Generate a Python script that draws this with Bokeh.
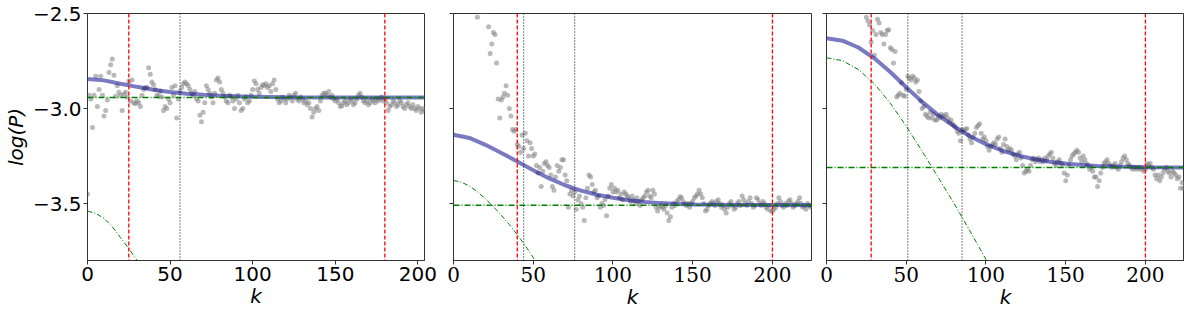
from bokeh.plotting import figure
from bokeh.layouts import row
from bokeh.models import FixedTicker, CustomJSTickFormatter, Span, Range1d
from bokeh.embed import file_html
from bokeh.resources import INLINE

# ---------------- data ----------------
x_ticks = [0, 50, 100, 150, 200]
y_ticks = [-3.5, -3.0, -2.5]
y_lim = [-3.8, -2.5]
x_lims = [[0, 204], [0, 224.5], [0, 224.5]]

# panel 1 observed log(P)
k1 = list(range(0, 205))
logP1 = [
    -3.45, -2.93, -2.95, -3.10, -2.93, -2.83, -2.99, -2.90, -2.83, -2.93,
    -3.04, -3.01, -2.955, -2.81, -2.77, -2.74, -2.825, -2.935, -2.88, -2.915,
    -2.93, -3.01, -2.925, -2.915, -2.94, -2.857, -2.96, -2.85, -2.97, -2.975,
    -2.96, -2.97, -2.99, -2.93, -2.90, -2.89, -2.89, -2.785, -2.82, -2.86,
    -2.875, -2.90, -2.93, -2.935, -2.91, -2.94, -3.01, -2.99, -3.00, -2.95,
    -2.97, -2.89, -2.93, -2.88, -3.05, -2.95, -2.91, -2.89, -2.87, -2.86,
    -2.87, -2.88, -2.90, -2.92, -2.93, -2.91, -2.95, -2.96, -3.035, -3.07,
    -3.02, -2.97, -2.88, -2.90, -2.92, -2.94, -2.97, -2.92, -2.85, -2.84,
    -2.86, -2.90, -2.92, -2.94, -2.96, -2.97, -2.93, -2.94, -2.96, -3.00,
    -2.95, -2.93, -2.97, -3.01, -3.00, -2.95, -2.94, -2.97, -2.96, -2.93,
    -2.90, -2.855, -2.87, -2.90, -2.92, -2.89, -2.875, -2.88, -2.87, -2.89,
    -2.88, -2.91, -2.87, -2.85, -2.90, -2.95, -2.97, -2.96, -2.94, -2.95,
    -2.97, -2.95, -2.93, -2.94, -2.96, -2.93, -2.92, -2.95, -2.96, -2.94,
    -2.95, -2.97, -2.96, -2.98, -2.97, -3.00, -3.045, -3.02, -3.00, -2.99,
    -3.01, -2.96, -2.93, -2.92, -2.92, -2.93, -2.91, -2.94, -2.93, -2.95,
    -2.96, -2.95, -2.97, -2.99, -2.985, -2.97, -2.96, -2.98, -2.97, -2.95,
    -2.96, -2.98, -2.97, -2.95, -2.93, -2.92, -2.94, -2.96, -2.97, -2.96,
    -2.98, -2.97, -2.95, -2.96, -2.97, -2.95, -2.96, -2.95, -2.94, -2.96,
    -2.95, -2.97, -3.01, -2.99, -2.98, -2.96, -2.97, -2.99, -2.98, -2.96,
    -2.97, -2.99, -3.00, -2.98, -2.97, -2.99, -3.00, -2.98, -3.00, -3.01,
    -2.99, -3.00, -3.02, -3.00, -3.01,
]

# panel 2 observed log(P)
k2 = list(range(14, 226))
logP2 = [
    -2.45, -2.52, -2.48, -2.47, -2.49, -2.46, -2.48, -2.49, -2.57, -2.71,
    -2.66, -2.60, -2.61, -2.76, -2.95, -3.05, -2.955, -2.94, -2.92, -2.88,
    -2.93, -3.00, -3.04, -3.11, -3.12, -3.11, -3.19, -3.20, -3.23, -3.14,
    -3.21, -3.13, -3.17, -3.25, -3.18, -3.21, -3.25, -3.24, -3.30, -3.34,
    -3.31, -3.41, -3.33, -3.29, -3.28, -3.30, -3.31, -3.35, -3.41, -3.43,
    -3.36, -3.30, -3.33, -3.31, -3.27, -3.27, -3.35, -3.38, -3.52, -3.45,
    -3.43, -3.46, -3.44, -3.53, -3.48, -3.46, -3.50, -3.52, -3.59, -3.47,
    -3.42, -3.35, -3.36, -3.40, -3.44, -3.43, -3.47, -3.46, -3.52, -3.50,
    -3.51, -3.48, -3.565, -3.46, -3.42, -3.40, -3.44, -3.42, -3.44, -3.43,
    -3.47, -3.45, -3.48, -3.44, -3.45, -3.46, -3.47, -3.49, -3.46, -3.48,
    -3.50, -3.47, -3.49, -3.51, -3.48, -3.47, -3.46, -3.44, -3.43, -3.46,
    -3.47, -3.43, -3.45, -3.52, -3.54, -3.52, -3.51, -3.52, -3.53, -3.51,
    -3.55, -3.59, -3.57, -3.52, -3.50, -3.51, -3.49, -3.48, -3.465, -3.47,
    -3.49, -3.50, -3.51, -3.50, -3.52, -3.50, -3.49, -3.47, -3.46, -3.45,
    -3.43, -3.45, -3.47, -3.50, -3.54, -3.53, -3.51, -3.50, -3.49, -3.50,
    -3.51, -3.49, -3.48, -3.50, -3.52, -3.51, -3.53, -3.55, -3.52, -3.50,
    -3.49, -3.51, -3.53, -3.52, -3.50, -3.49, -3.51, -3.46, -3.48, -3.50,
    -3.51, -3.49, -3.47, -3.50, -3.52, -3.51, -3.47, -3.48, -3.50, -3.51,
    -3.49, -3.50, -3.52, -3.53, -3.51, -3.54, -3.54, -3.53, -3.52, -3.50,
    -3.47, -3.49, -3.51, -3.52, -3.50, -3.51, -3.49, -3.48, -3.50, -3.52,
    -3.51, -3.50, -3.49, -3.47, -3.50, -3.52, -3.51, -3.53, -3.50, -3.51,
    -3.52, -3.51,
]

# panel 3 observed log(P)
k3 = list(range(20, 226))
logP3 = [
    -2.45, -2.47, -2.44, -2.48, -2.49, -2.52, -2.54, -2.56, -2.65, -2.59,
    -2.72, -2.61, -2.53, -2.55, -2.60, -2.61, -2.66, -2.61, -2.59, -2.585,
    -2.68, -2.69, -2.76, -2.70, -2.94, -2.93, -2.92, -2.865, -2.93, -2.935,
    -2.90, -2.83, -2.84, -2.85, -2.83, -2.84, -2.86, -2.85, -2.91, -2.96,
    -3.00, -2.99, -3.03, -3.04, -3.05, -3.02, -3.05, -3.03, -3.06, -3.06,
    -3.04, -3.05, -3.03, -3.04, -3.04, -3.03, -3.05, -3.07, -3.06, -3.08,
    -3.09, -3.10, -3.12, -3.13, -3.17, -3.11, -3.12, -3.11, -3.105, -3.14,
    -3.16, -3.18, -3.15, -3.13, -3.10, -3.09, -3.08, -3.13, -3.16, -3.15,
    -3.17, -3.20, -3.22, -3.20, -3.19, -3.18, -3.19, -3.16, -3.15, -3.21,
    -3.23, -3.19, -3.16, -3.20, -3.22, -3.21, -3.22, -3.24, -3.25, -3.27,
    -3.24, -3.23, -3.26, -3.30, -3.34, -3.33, -3.32, -3.33, -3.30, -3.27,
    -3.26, -3.28, -3.27, -3.26, -3.28, -3.27, -3.28, -3.26, -3.27, -3.25,
    -3.24, -3.23, -3.26, -3.29, -3.30, -3.28, -3.27, -3.29, -3.30, -3.34,
    -3.38, -3.35, -3.30, -3.27, -3.25, -3.24, -3.23, -3.22, -3.23, -3.26,
    -3.28, -3.25, -3.27, -3.29, -3.30, -3.32, -3.31, -3.33, -3.36, -3.36,
    -3.41, -3.38, -3.34, -3.31, -3.29, -3.28, -3.27, -3.29, -3.30, -3.31,
    -3.30, -3.29, -3.31, -3.32, -3.30, -3.28, -3.26, -3.25, -3.27, -3.29,
    -3.30, -3.31, -3.32, -3.31, -3.32, -3.31, -3.32, -3.31, -3.32, -3.33,
    -3.32, -3.29, -3.30, -3.29, -3.31, -3.32, -3.35, -3.37, -3.35, -3.38,
    -3.36, -3.34, -3.32, -3.31, -3.33, -3.34, -3.36, -3.33, -3.34, -3.35,
    -3.37, -3.36, -3.42, -3.39, -3.42, -3.40,
]

# fitted model (blue), signal component (green dash-dot curve), noise level
fit_k1 = [0, 10, 20, 30, 40, 50, 60, 70, 80, 90, 100, 120, 140, 170, 204]
fit1 = [-2.845, -2.852, -2.8695, -2.886, -2.901, -2.913, -2.922, -2.928,
        -2.933, -2.936, -2.9385, -2.941, -2.942, -2.9425, -2.9425]
sig_k1 = [0, 5, 10, 15, 20, 25, 30, 35]
sig1 = [-3.54, -3.552, -3.578, -3.622, -3.68, -3.737, -3.80, -3.87]
noise1 = -2.9425

fit_k2 = [0, 10, 20, 30, 40, 50, 60, 70, 80, 90, 100, 110, 120, 130, 140, 150, 170, 200, 225]
fit2 = [-3.138, -3.155, -3.191, -3.234, -3.279, -3.325, -3.368, -3.404, -3.432,
        -3.454, -3.470, -3.483, -3.492, -3.498, -3.502, -3.505, -3.507, -3.508, -3.509]
sig_k2 = [0, 5, 10, 15, 20, 25, 30, 35, 40, 45, 50, 55]
sig2 = [-3.379, -3.388, -3.408, -3.438, -3.475, -3.517, -3.562, -3.611,
        -3.664, -3.722, -3.785, -3.852]
noise2 = -3.509

fit_k3 = [0, 10, 20, 30, 40, 50, 60, 70, 80, 90, 100, 110, 120, 130, 140, 150,
          160, 170, 180, 190, 200, 225]
fit3 = [-2.630, -2.643, -2.679, -2.736, -2.808, -2.888, -2.965, -3.035, -3.094,
        -3.146, -3.188, -3.221, -3.247, -3.266, -3.280, -3.290, -3.297, -3.302,
        -3.305, -3.307, -3.309, -3.310]
sig_k3 = [0, 10, 20, 30, 40, 50, 60, 70, 80, 90, 100, 110]
sig3 = [-2.733, -2.748, -2.795, -2.870, -2.972, -3.093, -3.225, -3.362,
        -3.500, -3.645, -3.795, -3.950]
noise3 = -3.311

# vertical markers
red_lines = [[25, 180], [40, 200], [28, 200]]
dot_lines = [[56], [44, 76], [51, 85]]

panels = [
    dict(k=k1, v=logP1, fk=fit_k1, f=fit1, sk=sig_k1, s=sig1, n=noise1),
    dict(k=k2, v=logP2, fk=fit_k2, f=fit2, sk=sig_k2, s=sig2, n=noise2),
    dict(k=k3, v=logP3, fk=fit_k3, f=fit3, sk=sig_k3, s=sig3, n=noise3),
]

# ---------------- layout ----------------
layout_cfg = [
    dict(w=79 + 345 + 13, bl=79, br=13, font="DejaVu Sans", ylab=True),
    dict(w=16 + 358 + 6, bl=16, br=6, font="DejaVu Serif", ylab=False),
    dict(w=9 + 358 + 0, bl=9, br=0, font="DejaVu Serif", ylab=False),
]
H_TOP, H_PLOT, H_BOT = 13, 247, 52

figs = []
for i, (d, c) in enumerate(zip(panels, layout_cfg)):
    p = figure(width=c["w"], height=H_TOP + H_PLOT + H_BOT,
               output_backend="svg", toolbar_location=None,
               x_range=Range1d(*x_lims[i]), y_range=Range1d(*y_lim),
               min_border_left=c["bl"], min_border_right=c["br"],
               min_border_top=H_TOP, min_border_bottom=H_BOT)
    p.background_fill_color = "white"
    p.border_fill_color = "white"
    p.grid.visible = False
    p.outline_line_color = "#333333"
    p.outline_line_width = 1
    p.outline_line_alpha = 1

    for ax in (p.xaxis[0], p.yaxis[0]):
        ax.axis_line_color = "#333333"
        ax.major_tick_line_color = "#333333"
        ax.major_tick_out = 4
        ax.major_tick_in = 0
        ax.minor_tick_line_color = None
        ax.major_label_text_font_size = "20px"
        ax.major_label_text_color = "black"
        ax.axis_label_text_color = "black"
        ax.axis_label_text_font = "DejaVu Sans"
        ax.axis_label_text_font_size = "20px"
        ax.axis_label_text_font_style = "italic"

    p.xaxis.ticker = FixedTicker(ticks=x_ticks)
    p.xaxis.major_label_text_font = c["font"]
    p.xaxis.axis_label = "k"
    p.xaxis.major_label_standoff = 2
    p.xaxis.axis_label_standoff = 0

    p.yaxis.ticker = FixedTicker(ticks=y_ticks)
    if c["ylab"]:
        p.yaxis.formatter = CustomJSTickFormatter(
            code="return (tick < 0 ? '\u2212' : '') + Math.abs(tick).toFixed(1);")
        p.yaxis.major_label_text_font = "DejaVu Sans"
        p.yaxis.axis_label = "log(P)"
        p.yaxis.major_label_standoff = 2
        p.yaxis.axis_label_standoff = 2
    else:
        p.yaxis.formatter = CustomJSTickFormatter(code="return '';")
        p.yaxis.major_label_standoff = 0

    # observed points
    p.scatter(d["k"], d["v"], size=5, fill_color="#808080", fill_alpha=0.55,
              line_color=None)
    # fitted model
    p.line(d["fk"], d["f"], line_color="#00008b", line_alpha=0.52, line_width=4)
    # noise level and signal component
    p.line([x_lims[i][0], x_lims[i][1]], [d["n"], d["n"]], line_color="#008000",
           line_width=1.5, line_dash="6 2 1 2")
    p.line(d["sk"], d["s"], line_color="#008000", line_width=1,
           line_dash="5 2 1 2")

    for loc in red_lines[i]:
        p.add_layout(Span(location=loc, dimension="height", line_color="red",
                          line_width=1.3, line_dash="4 2"))
    for loc in dot_lines[i]:
        p.add_layout(Span(location=loc, dimension="height", line_color="#000000",
                          line_width=1, line_dash="1 2"))
    figs.append(p)

layout = row(*figs)
open("out.html", "w").write(file_html(layout, INLINE))
